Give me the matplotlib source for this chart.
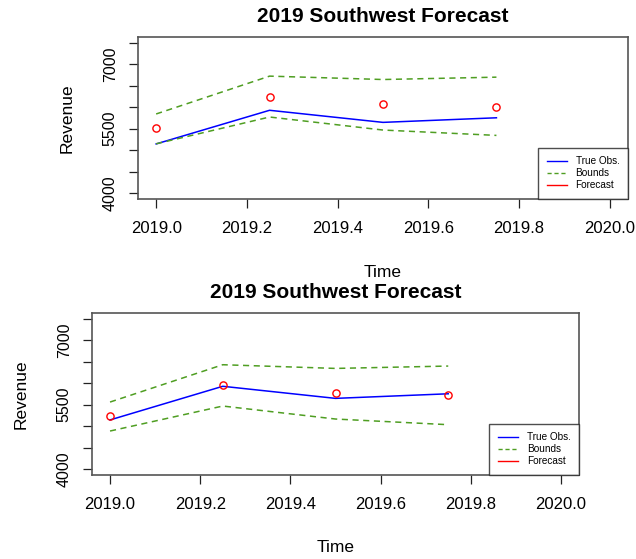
import matplotlib.pyplot as plt
from matplotlib.lines import Line2D

plt.rcParams['font.family'] = ['Liberation Sans', 'DejaVu Sans']

time = [2019.0, 2019.25, 2019.5, 2019.75]
true_obs = [5145, 5930, 5648, 5755]

# top panel
fc_top = [5516, 6250, 6070, 6016]
upper_top = [5844, 6727, 6648, 6703]
lower_top = [5148, 5773, 5469, 5344]

# bottom panel
fc_bot = [5236, 5951, 5772, 5717]
upper_bot = [5562, 6433, 6347, 6402]
lower_bot = [4886, 5469, 5166, 5034]

xticks = [2019.0, 2019.2, 2019.4, 2019.6, 2019.8, 2020.0]
yticks = [4000, 4500, 5000, 5500, 6000, 6500, 7000, 7500]
ylabels = ['4000', '', '', '5500', '', '', '7000', '']

green = '#4f9e22'
W, H = 636, 559


def panel(rect, fc, up, lo, ylab_x, time_y, title_y):
    l, t, r, b = rect
    ax = fig.add_axes([l / W, 1 - b / H, (r - l) / W, (b - t) / H])
    ax.plot(time, true_obs, color='blue', lw=1.1)
    ax.plot(time, up, color=green, lw=1.1, ls=(0, (4, 3)))
    ax.plot(time, lo, color=green, lw=1.1, ls=(0, (4, 3)))
    ax.plot(time, fc, 'o', mfc='none', mec='red', ms=5.2, mew=1.0)
    ax.set_xlim(2018.96, 2020.04)
    ax.set_ylim(3860, 7640)
    ax.set_xticks(xticks)
    ax.set_xticklabels(['%.1f' % v for v in xticks], fontsize=12)
    ax.set_yticks(yticks)
    ax.set_yticklabels(ylabels, fontsize=11.5, rotation=90, va='center')
    ax.tick_params(length=6.5, width=0.9, color='#222222', pad=8)
    ax.tick_params(axis='x', pad=9)
    for s in ax.spines.values():
        s.set_color('#555555')
        s.set_linewidth(1.2)
    fig.text((l + r) / 2 / W, 1 - title_y / H, '2019 Southwest Forecast',
             ha='center', va='center', fontsize=15, fontweight='bold')
    fig.text((l + r) / 2 / W, 1 - time_y / H, 'Time', ha='center', va='center',
             fontsize=12.5)
    fig.text(ylab_x / W, 1 - (t + b) / 2 / H, 'Revenue', ha='center', va='center',
             rotation=90, fontsize=12.5)
    handles = [Line2D([], [], color='blue', lw=1),
               Line2D([], [], color=green, lw=1, ls=(0, (3, 2))),
               Line2D([], [], color='red', lw=1)]
    leg = ax.legend(handles, ['True Obs.', 'Bounds', 'Forecast'], loc='lower right',
                    fontsize=7.2, frameon=True, fancybox=False, borderaxespad=0,
                    handlelength=2.0, handletextpad=0.9, labelspacing=0.2,
                    borderpad=0.85)
    leg.get_frame().set_edgecolor('#222222')
    leg.get_frame().set_linewidth(1.0)
    return ax


fig = plt.figure(figsize=(W / 100, H / 100), dpi=100)
panel((138, 37, 628, 199), fc_top, upper_top, lower_top, 67, 272, 17)
panel((92, 313, 579, 475), fc_bot, upper_bot, lower_bot, 21, 548, 292)
fig.savefig('out.png', dpi=100)
